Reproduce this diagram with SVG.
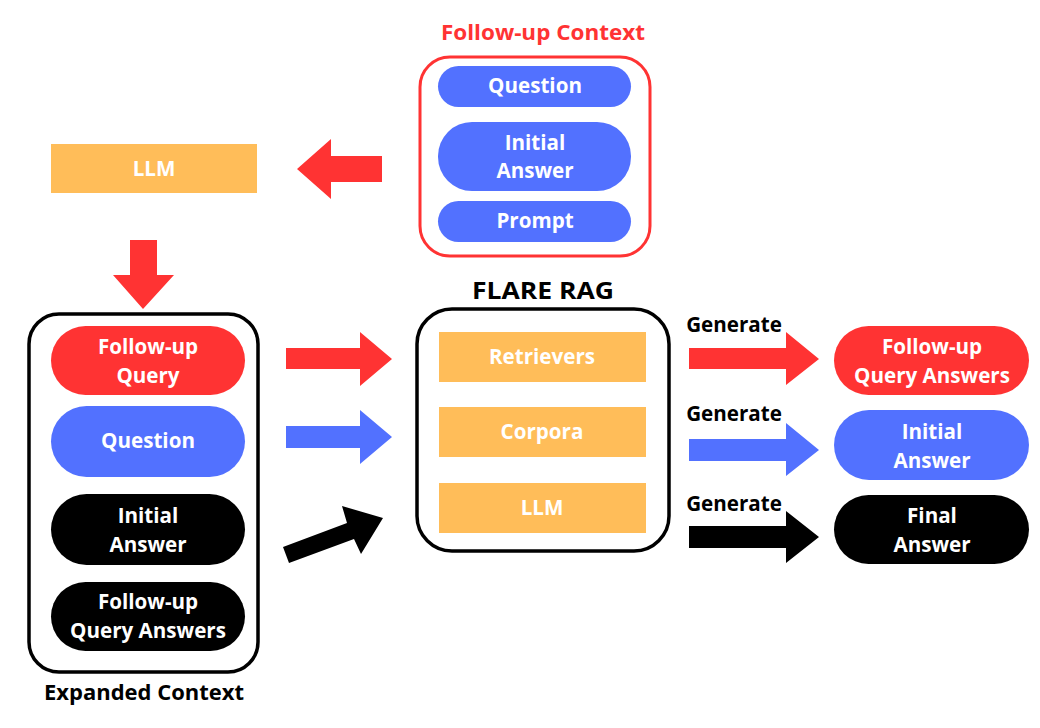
<svg xmlns="http://www.w3.org/2000/svg" width="1040" height="728" viewBox="0 0 1040 728">
<style>
text{font-family:"Open Sans","Liberation Sans",sans-serif;font-weight:700;text-anchor:middle}
.w{fill:#fff;font-size:20.6px}
.k{fill:#000;font-size:20.6px}
.red{fill:#FF3333}.blue{fill:#5271FF}.blk{fill:#000}.org{fill:#FFBD59}
.frame{fill:#fff;stroke:#000;stroke-width:3.5}
</style>
<rect width="1040" height="728" fill="#fff"/>
<g id="follow-up-context">
<text x="543" y="40" style="fill:#FF3333;font-size:22px" textLength="204" lengthAdjust="spacingAndGlyphs">Follow-up Context</text>
<rect x="420" y="57" width="230" height="199" rx="30" fill="#fff" stroke="#FF3333" stroke-width="3"/>
<rect class="blue" x="438" y="66" width="193" height="41" rx="20.5"/>
<text class="w" x="535" y="93">Question</text>
<rect class="blue" x="438" y="122" width="193" height="69" rx="34"/>
<text class="w" x="535" y="150">Initial</text>
<text class="w" x="535" y="178">Answer</text>
<rect class="blue" x="438" y="201" width="193" height="41" rx="20.5"/>
<text class="w" x="535" y="228">Prompt</text>
</g>
<g id="llm-top">
<rect class="org" x="51" y="144" width="206" height="49"/>
<text class="w" x="154" y="176">LLM</text>
</g>
<g id="expanded-context">
<rect class="frame" x="29" y="314" width="229" height="358" rx="30"/>
<rect class="red" x="51" y="326" width="194" height="69" rx="34.5"/>
<text class="w" x="148" y="354">Follow-up</text>
<text class="w" x="148" y="383">Query</text>
<rect class="blue" x="51" y="406" width="194" height="71" rx="35.5"/>
<text class="w" x="148" y="448">Question</text>
<rect class="blk" x="51" y="494" width="194" height="71" rx="35.5"/>
<text class="w" x="148" y="523">Initial</text>
<text class="w" x="148" y="552">Answer</text>
<rect class="blk" x="51" y="582" width="194" height="69" rx="34.5"/>
<text class="w" x="148" y="609">Follow-up</text>
<text class="w" x="148" y="638">Query Answers</text>
<text class="k" x="144" y="700" style="font-size:22px" textLength="200" lengthAdjust="spacingAndGlyphs">Expanded Context</text>
</g>
<g id="flare-rag">
<text class="k" x="543" y="299" style="font-size:24px" textLength="142" lengthAdjust="spacingAndGlyphs">FLARE RAG</text>
<rect class="frame" x="417" y="309" width="252" height="242" rx="35"/>
<rect class="org" x="439" y="332" width="207" height="50"/>
<text class="w" x="542" y="364">Retrievers</text>
<rect class="org" x="439" y="407" width="207" height="50"/>
<text class="w" x="542" y="439">Corpora</text>
<rect class="org" x="439" y="483" width="207" height="50"/>
<text class="w" x="542" y="515">LLM</text>
</g>
<g id="outputs">
<rect class="red" x="834" y="326" width="195" height="69" rx="34.5"/>
<text class="w" x="932" y="354">Follow-up</text>
<text class="w" x="932" y="383">Query Answers</text>
<rect class="blue" x="834" y="410" width="195" height="70" rx="35"/>
<text class="w" x="932" y="439">Initial</text>
<text class="w" x="932" y="468">Answer</text>
<rect class="blk" x="834" y="495" width="195" height="69" rx="34.5"/>
<text class="w" x="932" y="523">Final</text>
<text class="w" x="932" y="552">Answer</text>
</g>
<g id="connectors">
<polygon class="red" points="382,156 331,156 331,139 297,169 331,199 331,182 382,182"/>
<polygon class="red" points="130,240 157,240 157,275 174,275 143,309 113,275 130,275"/>
<polygon class="red" points="286,348 360,348 360,332 392,359 360,386 360,369 286,369"/>
<polygon class="blue" points="286,426 360,426 360,410 392,437 360,464 360,448 286,448"/>
<polygon class="blk" points="283,547 347,523 342,506 383,518 361,554 354,539 289,563"/>
<polygon class="red" points="689,348 786,348 786,332 819,359 786,385 786,369 689,369"/>
<polygon class="blue" points="689,439 786,439 786,423 819,450 786,476 786,461 689,461"/>
<polygon class="blk" points="689,526 786,526 786,511 819,537 786,563 786,548 689,548"/>
<text class="k" x="734" y="332">Generate</text>
<text class="k" x="734" y="421">Generate</text>
<text class="k" x="734" y="511">Generate</text>
</g>
</svg>
